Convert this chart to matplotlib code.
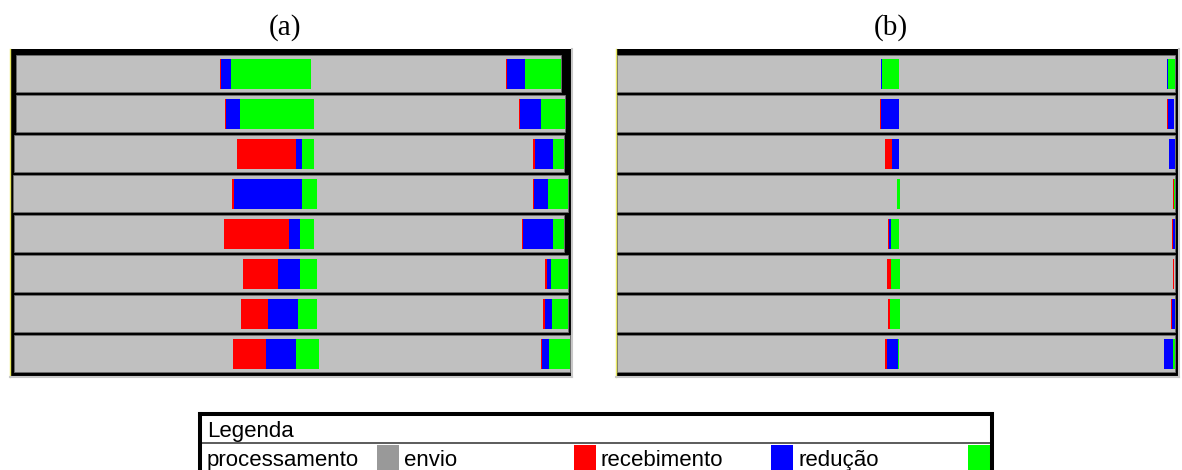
import numpy as np
import matplotlib
matplotlib.use("Agg")
import matplotlib.pyplot as plt

W, H = 1182, 470

# estados e cores da linha do tempo
estados = ["processamento", "envio", "recebimento", "redução"]
cores = ["#999999", "#ff0000", "#0000ff", "#00ff00"]
cor_linha = "#c0c0c0"

n_proc = 8

# (a) inicio de cada linha e duas fases de comunicacao por processo
a_linha_inicio = [0, 0, -2, -3, -2, -2, -2, -2]
a_f1_inicio = [204, 209, 221, 216, 208, 227, 225, 217]
a_f1_envio = [1, 1, 59, 2, 65, 35, 27, 33]
a_f1_receb = [10, 14, 6, 68, 11, 22, 30, 30]
a_f1_reduc = [80, 74, 12, 15, 14, 17, 19, 23]
a_f2_inicio = [490, 503, 517, 517, 506, 529, 527, 525]
a_f2_envio = [1, 1, 2, 1, 1, 2, 2, 1]
a_f2_receb = [18, 21, 18, 14, 30, 4, 7, 7]
a_f2_reduc = [36, 24, 11, 20, 11, 17, 16, 21]

# (b)
b_linha_inicio = [0, 0, 0, 0, 0, 0, 0, 0]
b_linha_fim = [559, 559, 559, 559, 559, 559, 559, 559]
b_f1_inicio = [264, 263.5, 268, 280, 271, 270, 271, 268]
b_f1_envio = [0, 0.5, 7, 0.7, 1.5, 4, 2, 2]
b_f1_receb = [1, 19, 8, 0, 1.5, 0, 0, 11]
b_f1_reduc = [18, 0, 0, 2.5, 9, 10, 11, 2]
b_f2_inicio = [551, 551, 553, 557, 556, 557, 555, 548]
b_f2_envio = [0, 0.7, 0, 0.5, 0.6, 1, 1, 0]
b_f2_receb = [1, 6, 6, 0, 2, 0, 3, 9]
b_f2_reduc = [7, 0.5, 0, 1.2, 0, 0, 0, 2]


def px_axes(fig, x0, y0, x1, y1):
    return fig.add_axes([x0 / W, 1 - y1 / H, (x1 - x0) / W, (y1 - y0) / H])


def desenha_painel(ax, inicio, fim, fases):
    rows = np.arange(n_proc)
    ax.barh(rows, np.array(fim) - np.array(inicio), left=inicio, height=0.925,
            color=cor_linha, edgecolor="#6f6f6f", linewidth=0.6, zorder=2)
    for k, cor in enumerate(cores[1:]):
        for i in rows:
            segs = []
            for f_ini, f_env, f_rec, f_red in fases:
                durs = [f_env[i], f_rec[i], f_red[i]]
                start = f_ini[i] + sum(durs[:k])
                if durs[k] > 0:
                    segs.append((start, durs[k]))
            ax.broken_barh(segs, (i - 0.375, 0.75), facecolors=cor, zorder=3)
    ax.set_ylim(7.5875, -0.6125)
    ax.set_facecolor("black")
    ax.set_xticks([])
    ax.set_yticks([])
    for s in ("right", "bottom", "top"):
        ax.spines[s].set_color("#c8c8c8")
        ax.spines[s].set_linewidth(1.5)
    ax.spines["top"].set_visible(False)
    ax.spines["left"].set_color("#e8e860")
    ax.spines["left"].set_linewidth(1.0)


fig = plt.figure(figsize=(W / 100, H / 100), dpi=100)

# painel (a)
ax_a = px_axes(fig, 10, 49, 572, 377)
a_linha_fim = [a_f2_inicio[i] + a_f2_envio[i] + a_f2_receb[i] + a_f2_reduc[i]
               for i in range(n_proc)]
desenha_painel(ax_a, a_linha_inicio, a_linha_fim,
               [(a_f1_inicio, a_f1_envio, a_f1_receb, a_f1_reduc),
                (a_f2_inicio, a_f2_envio, a_f2_receb, a_f2_reduc)])
ax_a.set_xlim(-6, 556)

# painel (b)
ax_b = px_axes(fig, 616, 49, 1179, 377)
desenha_painel(ax_b, b_linha_inicio, b_linha_fim,
               [(b_f1_inicio, b_f1_envio, b_f1_receb, b_f1_reduc),
                (b_f2_inicio, b_f2_envio, b_f2_receb, b_f2_reduc)])
ax_b.set_xlim(-1, 563)

fig.text(285 / W, 1 - 28 / H, "(a)", ha="center", va="center",
         family="Liberation Serif", fontsize=21)
fig.text(891 / W, 1 - 28 / H, "(b)", ha="center", va="center",
         family="Liberation Serif", fontsize=21)

# legenda em forma de tabela
ax_l = px_axes(fig, 200, 414, 992, 490)
ax_l.set_xlim(0, 792)
ax_l.set_ylim(76, 0)
ax_l.set_xticks([])
ax_l.set_yticks([])
for s in ax_l.spines.values():
    s.set_linewidth(2.9)
    s.set_color("black")
ax_l.axhline(29, color="#404040", lw=1.2)
ax_l.text(7, 23, "Legenda", family="Liberation Sans", fontsize=16, va="baseline")
cel = 197
for i, (nome, cor) in enumerate(zip(estados, cores)):
    x0 = 4 + i * cel
    ax_l.text(x0 + 3, 52, nome, family="Liberation Sans", fontsize=16,
              va="baseline")
    ax_l.bar(x0 + 173, 60, bottom=31, width=22, align="edge", color=cor)

fig.savefig("out.png", dpi=100)
